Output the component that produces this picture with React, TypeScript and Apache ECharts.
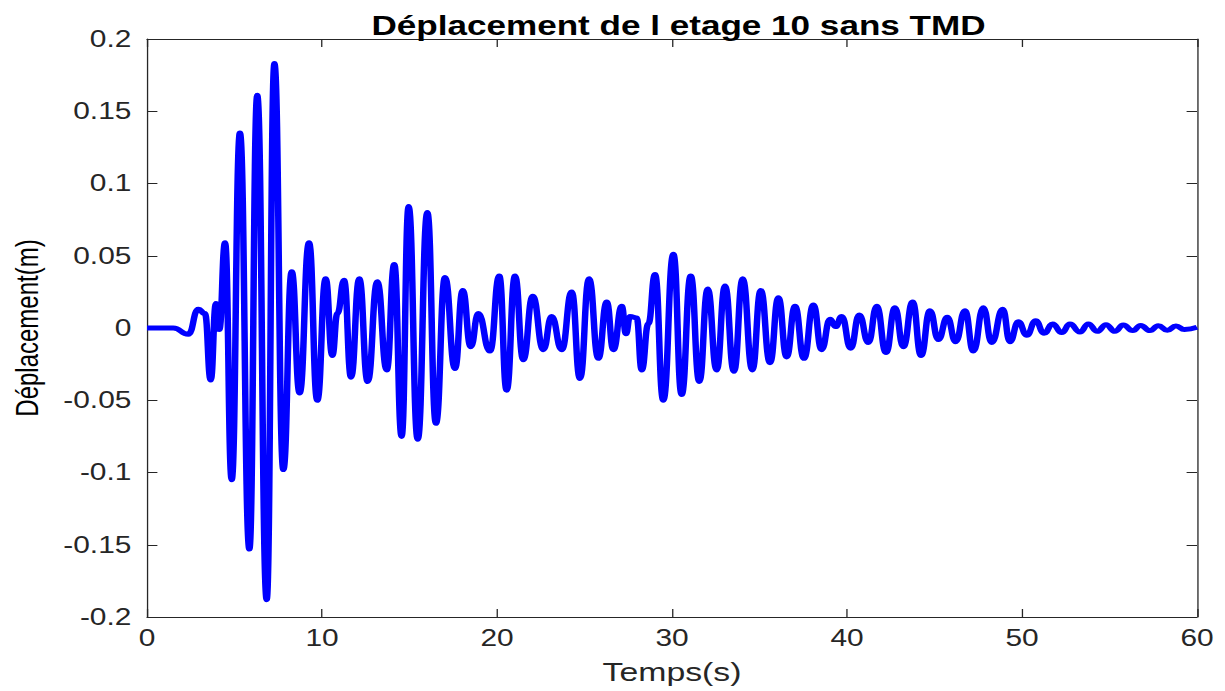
import React, { useEffect, useRef } from "react";
import * as echarts from "echarts";

// Title and axis labels
const TITLE = "Déplacement de l etage 10 sans TMD";
const X_LABEL = "Temps(s)";
const Y_LABEL = "Déplacement(m)";

// Time (s) of the turning points
const timeS = [
  0, 1.5, 2.36, 2.93, 3.31, 3.64, 3.94, 4.13, 4.46, 4.84,
  5.31, 5.85, 6.3, 6.84, 7.28, 7.79, 8.27, 8.72, 9.26, 9.73,
  10.21, 10.59, 10.88, 11.26, 11.66, 12.13, 12.61, 13.16, 13.7, 14.13,
  14.55, 14.95, 15.47, 16.02, 16.51, 17.03, 17.6, 18.04, 18.5, 18.93,
  19.6, 20.13, 20.55, 21.03, 21.5, 22.04, 22.65, 23.12, 23.7, 24.27,
  24.74, 25.26, 25.79, 26.27, 26.65, 27.13, 27.37, 27.6, 27.98, 28.27,
  28.65, 29.03, 29.5, 30.08, 30.55, 31.07, 31.56, 32.04, 32.55, 33.03,
  33.54, 34.04, 34.59, 35.07, 35.6, 36.08, 36.55, 37.03, 37.54, 38.08,
  38.55, 39.03, 39.35, 39.7, 40.21, 40.7, 41.22, 41.7, 42.23, 42.74,
  43.22, 43.75, 44.23, 44.74, 45.22, 45.73, 46.21, 46.74, 47.22, 47.79,
  48.27, 48.9, 49.31, 49.79, 50.27, 50.78, 51.26, 51.75, 52.27, 52.74,
  53.31, 53.79, 54.3, 54.8, 55.31, 55.79, 56.33, 56.78, 57.31, 57.79,
  58.3, 58.8, 59.28, 60,
];

// Displacement (m) at those turning points
const displacementM = [
  0, 0, -0.0044, 0.013, 0.01, -0.036, 0.017, -0.001, 0.059, -0.105,
  0.135, -0.153, 0.161, -0.188, 0.183, -0.098, 0.039, -0.045, 0.059, -0.05,
  0.034, -0.019, 0.01, 0.033, -0.034, 0.034, -0.037, 0.032, -0.029, 0.044,
  -0.075, 0.084, -0.077, 0.08, -0.066, 0.035, -0.028, 0.026, -0.013, 0.01,
  -0.016, 0.036, -0.043, 0.036, -0.022, 0.022, -0.015, 0.008, -0.015, 0.025,
  -0.035, 0.034, -0.021, 0.018, -0.015, 0.015, -0.004, 0.008, 0.007, -0.029,
  0.003, 0.037, -0.05, 0.051, -0.046, 0.036, -0.037, 0.027, -0.029, 0.029,
  -0.03, 0.034, -0.029, 0.026, -0.024, 0.021, -0.02, 0.015, -0.021, 0.016,
  -0.015, 0.006, 0.001, 0.008, -0.014, 0.009, -0.01, 0.015, -0.017, 0.014,
  -0.013, 0.018, -0.019, 0.012, -0.008, 0.0074, -0.0095, 0.012, -0.016, 0.014,
  -0.01, 0.013, -0.0095, 0.0044, -0.005, 0.005, -0.0037, 0.0028, -0.0032, 0.0028,
  -0.0028, 0.0028, -0.0023, 0.0023, -0.0023, 0.002, -0.0018, 0.0018, -0.0018, 0.0016,
  -0.0016, 0.0014, -0.001, 0.0005,
];

// Axis ranges
const xRange = [0, 60];
const xStep = 10;
const yRange = [-0.2, 0.2];
const yStep = 0.05;

// The reference picture is stretched horizontally
const STRETCH = 1.3;
const FULL_W = 1225;
const FULL_H = 691;
const W = FULL_W / STRETCH;

export default function App() {
  const ref = useRef<HTMLDivElement>(null);

  useEffect(() => {
    if (!ref.current) return;
    const chart = echarts.init(ref.current, null, { renderer: "svg", width: W, height: FULL_H });
    const data = timeS.map((t, i) => [t, displacementM[i]]);
    const axisColor = "#262626";
    const font = "'Liberation Sans', Arial, Helvetica, sans-serif";
    const lineStyle = { color: axisColor, width: 1 };
    const tickFmt = (v: number) => String(+v.toFixed(2));

    const baseX = {
      type: "value",
      min: xRange[0],
      max: xRange[1],
      interval: xStep,
      axisLine: { show: true, onZero: false, lineStyle },
      axisTick: { show: true, inside: true, length: 8, lineStyle },
      splitLine: { show: false },
    };
    const baseY = {
      type: "value",
      min: yRange[0],
      max: yRange[1],
      interval: yStep,
      axisLine: { show: true, onZero: false, lineStyle },
      axisTick: { show: true, inside: true, length: 8, lineStyle },
      splitLine: { show: false },
    };

    chart.setOption({
      animation: false,
      backgroundColor: "#ffffff",
      title: {
        text: TITLE,
        left: 672 / STRETCH,
        top: 7,
        textAlign: "center",
        textStyle: { fontFamily: font, fontSize: 27, fontWeight: "bold", color: "#000000" },
      },
      grid: { left: 147 / STRETCH, right: 28 / STRETCH, top: 39, bottom: 74, containLabel: false },
      xAxis: [
        {
          ...baseX,
          position: "bottom",
          name: X_LABEL,
          nameLocation: "middle",
          nameGap: 42,
          nameTextStyle: { fontFamily: font, fontSize: 26, color: axisColor },
          axisLabel: { show: true, margin: 10, fontSize: 23, fontFamily: font, color: axisColor, formatter: tickFmt },
        },
        { ...baseX, position: "top", axisLabel: { show: false } },
      ],
      yAxis: [
        {
          ...baseY,
          position: "left",
          name: Y_LABEL,
          nameLocation: "middle",
          nameGap: 80,
          nameTextStyle: { fontFamily: font, fontSize: 24, color: "#000000" },
          axisLabel: { show: true, margin: 12, fontSize: 23, fontFamily: font, color: axisColor, formatter: tickFmt },
        },
        { ...baseY, position: "right", axisLabel: { show: false } },
      ],
      series: [
        {
          type: "line",
          data,
          xAxisIndex: 0,
          yAxisIndex: 0,
          showSymbol: false,
          symbol: "none",
          smooth: 0.5,
          smoothMonotone: "x",
          lineStyle: { color: "#0000ff", width: 5 },
          itemStyle: { color: "#0000ff" },
        },
      ],
    });
    return () => chart.dispose();
  }, []);

  return (
    <div
      style={{
        position: "fixed",
        left: 0,
        top: 0,
        width: FULL_W,
        height: FULL_H,
        overflow: "hidden",
        background: "#ffffff",
      }}
    >
      <div
        ref={ref}
        style={{ width: W, height: FULL_H, transform: `scaleX(${STRETCH})`, transformOrigin: "0 0" }}
      />
    </div>
  );
}
